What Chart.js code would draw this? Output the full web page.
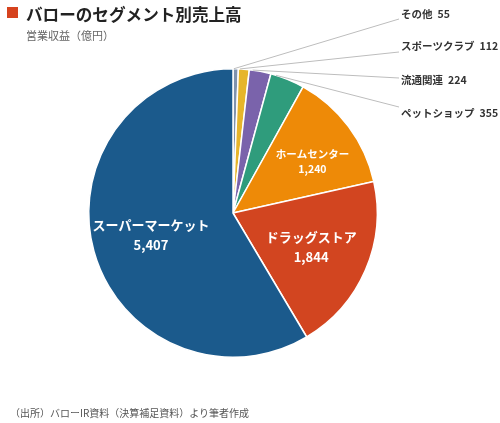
<!DOCTYPE html>
<html>
<head>
<meta charset="utf-8">
<script src="https://cdn.jsdelivr.net/npm/chart.js@4"></script>
<style>
  html, body { margin: 0; padding: 0; background: #fff; }
  body { font-family: "Noto Sans CJK JP", "Noto Sans", sans-serif; }
  #wrap { position: relative; width: 500px; height: 423px; }
  #chartBox { position: absolute; left: 0; top: 0; width: 500px; height: 423px; }
  .mark { position: absolute; left: 7px; top: 7px; width: 11px; height: 11px; background: #d6431e; }
  .title { position: absolute; left: 26px; top: 4px; font-size: 16.6px; line-height: 20px; font-weight: 700; color: #222; }
  .sub { position: absolute; left: 26px; top: 28px; font-size: 11px; line-height: 14px; color: #666; }
  .src { position: absolute; left: 10px; top: 406px; font-size: 10px; line-height: 14px; color: #555; }
</style>
</head>
<body>
<div id="wrap">
  <div id="chartBox"><canvas id="pie"></canvas></div>
  <div class="mark"></div>
  <div class="title">バローのセグメント別売上高</div>
  <div class="sub">営業収益（億円）</div>
  <div class="src">（出所）バローIR資料（決算補足資料）より筆者作成</div>
</div>
<script>
// segments, clockwise from 12 o'clock
const segments = ["その他", "スポーツクラブ", "流通関連", "ペットショップ", "ホームセンター", "ドラッグストア", "スーパーマーケット"];
const revenue = [55, 112, 224, 355, 1240, 1844, 5407];
const colors = ["#7f93ae", "#e6b52b", "#7a63ab", "#2f9c7c", "#ee8a07", "#d24520", "#1b5a8c"];

const FONT = '"Noto Sans CJK JP", "Noto Sans", sans-serif';

// small slices get a leader line to a label on the right
const outsideY = [14, 46, 80, 113];
const lineEndDy = [5, 6, -2, -6];

const fmt = (v) => v.toLocaleString("en-US");

const labelPlugin = {
  id: "sliceLabels",
  afterDatasetsDraw(chart) {
    const ctx = chart.ctx;
    const arcs = chart.getDatasetMeta(0).data;
    ctx.save();
    arcs.forEach((arc, i) => {
      const p = arc.getProps(["x", "y", "startAngle", "endAngle", "outerRadius"], true);
      const mid = (p.startAngle + p.endAngle) / 2;
      if (i < outsideY.length) {
        const a = p.startAngle + (p.endAngle - p.startAngle) * 0.15;
        const sx = p.x + Math.cos(a) * p.outerRadius;
        const sy = p.y + Math.sin(a) * p.outerRadius;
        const ty = outsideY[i];
        ctx.strokeStyle = "#bdbdbd";
        ctx.lineWidth = 1;
        ctx.beginPath();
        ctx.moveTo(sx, sy);
        ctx.lineTo(399, ty + lineEndDy[i]);
        ctx.stroke();
        ctx.fillStyle = "#333";
        ctx.font = "700 10.5px " + FONT;
        ctx.textAlign = "left";
        ctx.textBaseline = "middle";
        ctx.fillText(segments[i], 401, ty);
        const w = ctx.measureText(segments[i]).width;
        ctx.fillText(fmt(revenue[i]), 401 + w + 5, ty);
      } else {
        const big = revenue[i] > 1500;
        const rf = big ? 0.59 : 0.655;
        const ang = big ? mid : mid + 0.07;
        const cx = p.x + Math.cos(ang) * p.outerRadius * rf;
        const cy = p.y + Math.sin(ang) * p.outerRadius * rf;
        const size = big ? 13 : 10.5;
        const gap = big ? 10 : 7.5;
        ctx.fillStyle = "#fff";
        ctx.textAlign = "center";
        ctx.textBaseline = "middle";
        ctx.font = "700 " + size + "px " + FONT;
        ctx.fillText(segments[i], cx, cy - gap);
        ctx.fillText(fmt(revenue[i]), cx, cy + gap);
      }
    });
    ctx.restore();
  }
};

new Chart(document.getElementById("pie"), {
  type: "pie",
  data: {
    labels: segments,
    datasets: [{
      data: revenue,
      backgroundColor: colors,
      borderColor: "#fff",
      borderWidth: 1.5
    }]
  },
  options: {
    responsive: true,
    maintainAspectRatio: false,
    animation: false,
    events: [],
    layout: { padding: { left: 88, right: 122, top: 68, bottom: 65 } },
    plugins: {
      legend: { display: false },
      tooltip: { enabled: false },
      title: { display: false }
    }
  },
  plugins: [labelPlugin]
});
</script>
</body>
</html>
